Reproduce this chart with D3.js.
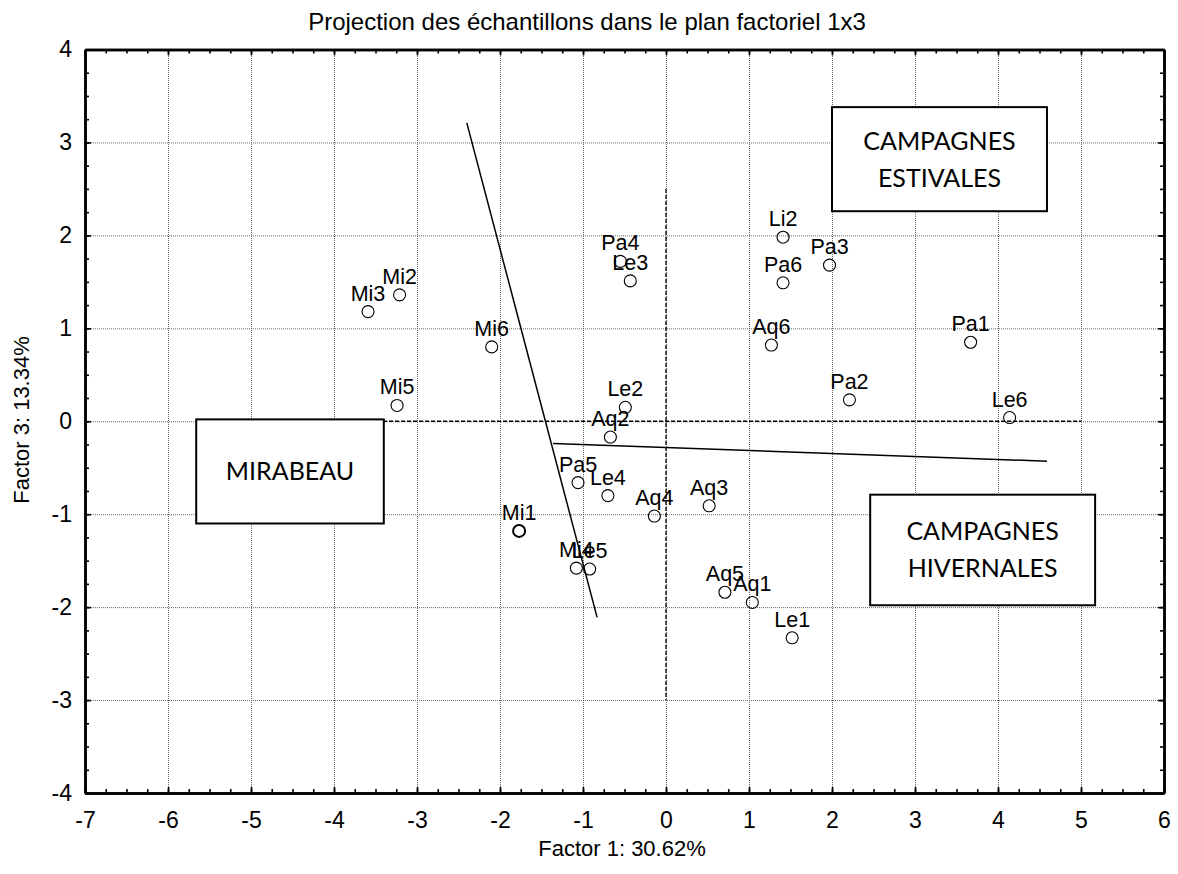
<!DOCTYPE html>
<html><head><meta charset="utf-8">
<script src="https://cdn.jsdelivr.net/npm/d3@7"></script>
<style>
body{margin:0;background:#fff;}
svg{display:block;}
text{font-family:"Liberation Sans",Arial,sans-serif;fill:#000;}
</style></head>
<body><svg id="c" width="1178" height="874"></svg>
<script>
// ---- data ----
const sampleLabels = ["Mi1","Mi2","Mi3","Mi4","Mi5","Mi6","Le1","Le2","Le3","Le4","Le5","Le6","Aq1","Aq2","Aq3","Aq4","Aq5","Aq6","Pa1","Pa2","Pa3","Pa4","Pa5","Pa6","Li2"];
const factor1 = [-1.77,-3.21,-3.59,-1.08,-3.24,-2.10, 1.52,-0.49,-0.43,-0.70,-0.92, 4.14, 1.04,-0.67, 0.52,-0.14, 0.71, 1.27, 3.67, 2.21, 1.97,-0.55,-1.06, 1.41, 1.41];
const factor3 = [-1.18, 1.36, 1.18,-1.58, 0.17, 0.80,-2.33, 0.15, 1.51,-0.80,-1.59, 0.04,-1.95,-0.17,-0.91,-1.02,-1.84, 0.82, 0.85, 0.23, 1.68, 1.72,-0.66, 1.49, 1.98];
const xTicks = [-7,-6,-5,-4,-3,-2,-1,0,1,2,3,4,5,6];
const yTicks = [-4,-3,-2,-1,0,1,2,3,4];
// separating lines (data units)
const sepLineA = {x:[-2.40,-0.83], y:[3.21,-2.11]};
const sepLineB = {x:[-1.36, 4.59], y:[-0.24,-0.43]};
// dashed reference axes
const refV = {x:[0,0], y:[2.5,-3.0]};
const refH = {x:[-5,5], y:[0,0]};
// annotation boxes: [x0,x1,y0,y1] in data units
const boxNames = [["MIRABEAU"],["CAMPAGNES","ESTIVALES"],["CAMPAGNES","HIVERNALES"]];
const boxX0 = [-5.66, 2.00, 2.46];
const boxX1 = [-3.40, 4.59, 5.17];
const boxY0 = [0.02, 3.38, -0.79];
const boxY1 = [-1.10, 2.26, -1.98];
const titleText = "Projection des échantillons dans le plan factoriel 1x3";
const xTitle = "Factor 1: 30.62%";
const yTitle = "Factor 3: 13.34%";

// ---- drawing ----
const svg = d3.select("#c");
const L=85, R=1164, T=49.5, B=793;
const x = d3.scaleLinear().domain([-7,6]).range([L,R]);
const y = d3.scaleLinear().domain([-4,4]).range([B,T]);
const minorX = d3.range(-7,6.001,0.25);
const minorY = d3.range(-4,4.001,0.25);
const fmt = d => String(d);

// grid
const grid = svg.append("g");
grid.append("g").attr("transform",`translate(0,${B})`)
  .call(d3.axisBottom(x).tickValues(xTicks.slice(1,-1)).tickSize(-(B-T)).tickFormat(""))
  .call(g=>g.select(".domain").remove())
  .selectAll("line").attr("stroke","#666").attr("stroke-dasharray","1,1");
grid.append("g").attr("transform",`translate(${L},0)`)
  .call(d3.axisLeft(y).tickValues(yTicks.slice(1,-1)).tickSize(-(R-L)).tickFormat(""))
  .call(g=>g.select(".domain").remove())
  .selectAll("line").attr("stroke","#666").attr("stroke-dasharray","1,1");

// dashed reference lines
const line = d3.line().x(d=>x(d[0])).y(d=>y(d[1]));
[refV, refH].forEach(r=>{
  svg.append("path").attr("d", line(d3.zip(r.x,r.y)))
    .attr("stroke","#000").attr("stroke-width",1.3).attr("stroke-dasharray","4,2").attr("fill","none");
});
// separating lines
[sepLineA, sepLineB].forEach(r=>{
  svg.append("path").attr("d", line(d3.zip(r.x,r.y)))
    .attr("stroke","#000").attr("stroke-width",1.5).attr("fill","none");
});

// boxes
boxNames.forEach((names,i)=>{
  const bx0=x(boxX0[i]), bx1=x(boxX1[i]), by0=y(boxY0[i]), by1=y(boxY1[i]);
  svg.append("rect").attr("x",bx0).attr("y",by0).attr("width",bx1-bx0).attr("height",by1-by0)
    .attr("fill","#fff").attr("stroke","#000").attr("stroke-width",2);
  const cx=(bx0+bx1)/2, cy=(by0+by1)/2;
  const n=names.length, lh=37;
  names.forEach((t,j)=>{
    svg.append("text").attr("x",cx).attr("y",cy+(j-(n-1)/2)*lh+9)
      .attr("text-anchor","middle").style("font-family","Lato, 'Open Sans', sans-serif")
      .style("font-size","25px").text(t);
  });
});

// points
const pts = sampleLabels.map((s,i)=>({s, fx:factor1[i], fy:factor3[i]}));
svg.append("g").selectAll("circle").data(pts).join("circle")
  .attr("cx",d=>x(d.fx)).attr("cy",d=>y(d.fy)).attr("r",6)
  .attr("fill","none").attr("stroke","#000").attr("stroke-width",d=>d.s==="Mi1"?2:1.1);
svg.append("g").selectAll("text").data(pts).join("text")
  .attr("x",d=>x(d.fx)).attr("y",d=>y(d.fy)-11)
  .attr("text-anchor","middle").style("font-size","21.5px").text(d=>d.s);

// axes frame with inward ticks
function styleAxis(g){ g.select(".domain").attr("stroke","#000").attr("stroke-width",2.5);
  g.selectAll(".tick line").attr("stroke","#000").attr("stroke-width",1.6); }
svg.append("g").attr("transform",`translate(0,${B})`)
  .call(d3.axisBottom(x).tickValues(minorX).tickSize(-4).tickSizeOuter(0).tickFormat("")).call(styleAxis);
svg.append("g").attr("transform",`translate(0,${B})`)
  .call(d3.axisBottom(x).tickValues(xTicks).tickSize(-6).tickSizeOuter(0).tickPadding(19).tickFormat(fmt)).call(styleAxis)
  .call(g=>g.selectAll("text").style("font-size","23px").style("font-family","'Liberation Sans',Arial,sans-serif"));
svg.append("g").attr("transform",`translate(0,${T})`)
  .call(d3.axisTop(x).tickValues(minorX).tickSize(-4).tickSizeOuter(0).tickFormat("")).call(styleAxis);
svg.append("g").attr("transform",`translate(0,${T})`)
  .call(d3.axisTop(x).tickValues(xTicks).tickSize(-6).tickSizeOuter(0).tickFormat("")).call(styleAxis);
svg.append("g").attr("transform",`translate(${L},0)`)
  .call(d3.axisLeft(y).tickValues(minorY).tickSize(-4).tickSizeOuter(0).tickFormat("")).call(styleAxis);
svg.append("g").attr("transform",`translate(${L},0)`)
  .call(d3.axisLeft(y).tickValues(yTicks).tickSize(-6).tickSizeOuter(0).tickPadding(13).tickFormat(fmt)).call(styleAxis)
  .call(g=>g.selectAll("text").style("font-size","23px").style("font-family","'Liberation Sans',Arial,sans-serif"));
svg.append("g").attr("transform",`translate(${R},0)`)
  .call(d3.axisRight(y).tickValues(minorY).tickSize(-4).tickSizeOuter(0).tickFormat("")).call(styleAxis);
svg.append("g").attr("transform",`translate(${R},0)`)
  .call(d3.axisRight(y).tickValues(yTicks).tickSize(-6).tickSizeOuter(0).tickFormat("")).call(styleAxis);

// titles
svg.append("text").attr("x",587).attr("y",30).attr("text-anchor","middle").style("font-size","24px").text(titleText);
svg.append("text").attr("x",622).attr("y",856).attr("text-anchor","middle").style("font-size","22px").text(xTitle);
svg.append("text").attr("transform","translate(29,420) rotate(-90)").attr("text-anchor","middle").style("font-size","22px").text(yTitle);
</script></body></html>
